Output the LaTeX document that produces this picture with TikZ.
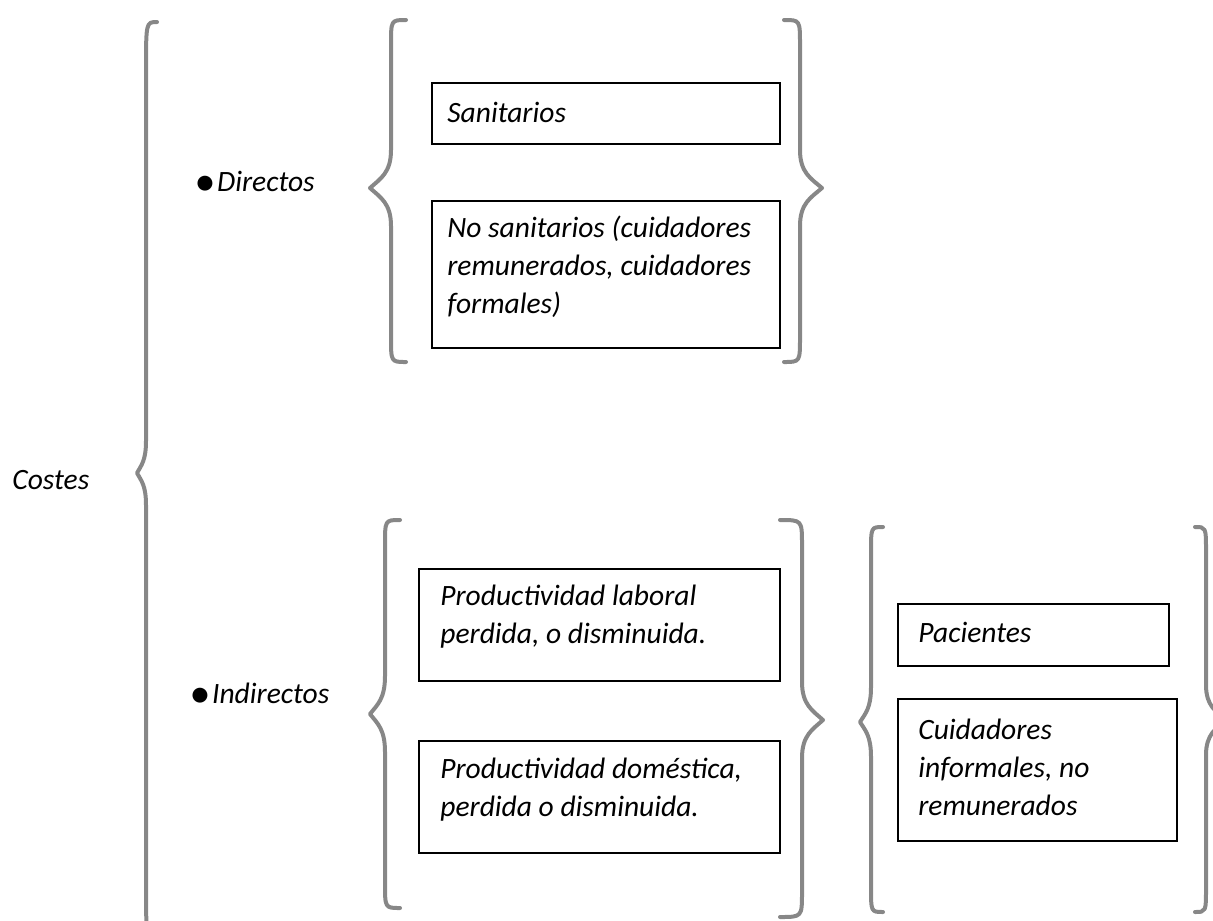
\documentclass[tikz,border=0pt]{standalone}
\usepackage{fontspec}
\setmainfont{Carlito}
\definecolor{gris}{HTML}{878787}
\tikzset{
  llave/.style={draw=gris, line width=0.08cm, line cap=round, line join=round},
  caja/.style={draw, line width=0.04cm, anchor=north west, inner sep=0pt},
  texto/.style={anchor=base west, inner sep=0pt, align=left, font=\fontsize{16.8}{21.6}\selectfont\itshape}
}
% stem x, top y, bottom y, tip y, tip offset, end offset, corner, tip half height
\newcommand{\llave}[8]{%
  \draw[llave] ({#1+#6},#2) .. controls (#1,#2) .. (#1,{#2+#7})
    -- (#1,{#4-#8}) .. controls (#1,{#4-0.4*#8}) and ({#1+0.5*#5},{#4-0.25*#8}) .. ({#1+#5},#4)
    .. controls ({#1+0.5*#5},{#4+0.25*#8}) and (#1,{#4+0.4*#8}) .. (#1,{#4+#8})
    -- (#1,{#3-#7}) .. controls (#1,#3) .. ({#1+#6},#3);}
\newcommand{\vineta}{\raisebox{-2.5pt}{\fontsize{24}{24}\selectfont\textbullet}}
\begin{document}
\begin{tikzpicture}[x=0.02cm, y=-0.02cm]
      \useasboundingbox (0,0) rectangle (1213,920);
      \clip (0,0) rectangle (1213,920);

      \node [texto] (costes) at (12,489) {Costes};
      \node [texto] (directos) at (194,191) {\vineta\hspace{1pt}Directos};
      \node [texto] (indirectos) at (189,703) {\vineta\hspace{1pt}Indirectos};

      \node [caja, minimum width=6.96cm, minimum height=1.22cm] (sanitarios) at (431,82) {};
      \node [caja, minimum width=6.96cm, minimum height=2.94cm] (nosanitarios) at (431,200) {};
      \node [caja, minimum width=7.22cm, minimum height=2.24cm] (laboral) at (418,568) {};
      \node [caja, minimum width=7.22cm, minimum height=2.24cm] (domestica) at (418,740) {};
      \node [caja, minimum width=5.42cm, minimum height=1.24cm] (pacientes) at (897,603) {};
      \node [caja, minimum width=5.58cm, minimum height=2.84cm] (cuidadores) at (897,698) {};

      % base anchor of a multi-line node is its last line
      \node [texto] (sanitariosT) at ([shift={(16,40)}]sanitarios.north west) {Sanitarios};
      \node [texto] (nosanitariosT) at ([shift={(16,113)}]nosanitarios.north west)
        {No sanitarios (cuidadores\\remunerados, cuidadores\\formales)};
      \node [texto] (laboralT) at ([shift={(22,75)}]laboral.north west)
        {Productividad laboral\\perdida, o disminuida.};
      \node [texto] (domesticaT) at ([shift={(22,76)}]domestica.north west)
        {Productividad doméstica,\\perdida o disminuida.};
      \node [texto] (pacientesT) at ([shift={(21,39)}]pacientes.north west) {Pacientes};
      \node [texto] (cuidadoresT) at ([shift={(21,117)}]cuidadores.north west)
        {Cuidadores\\informales, no\\remunerados};

      \llave{146}{22}{935}{473}{-9}{11}{50}{32}
      \llave{391}{20}{362}{188}{-21}{15}{25}{38}
      \llave{800}{20}{362}{188}{22}{-16}{25}{38}
      \llave{385}{520}{908}{714}{-15}{15}{25}{38}
      \llave{802}{520}{917}{720}{21}{-22}{25}{38}
      \llave{871}{527}{912}{722}{-11}{12}{25}{35}
      \llave{1206}{527}{912}{720}{20}{-11}{25}{35}

    \end{tikzpicture}
\end{document}
